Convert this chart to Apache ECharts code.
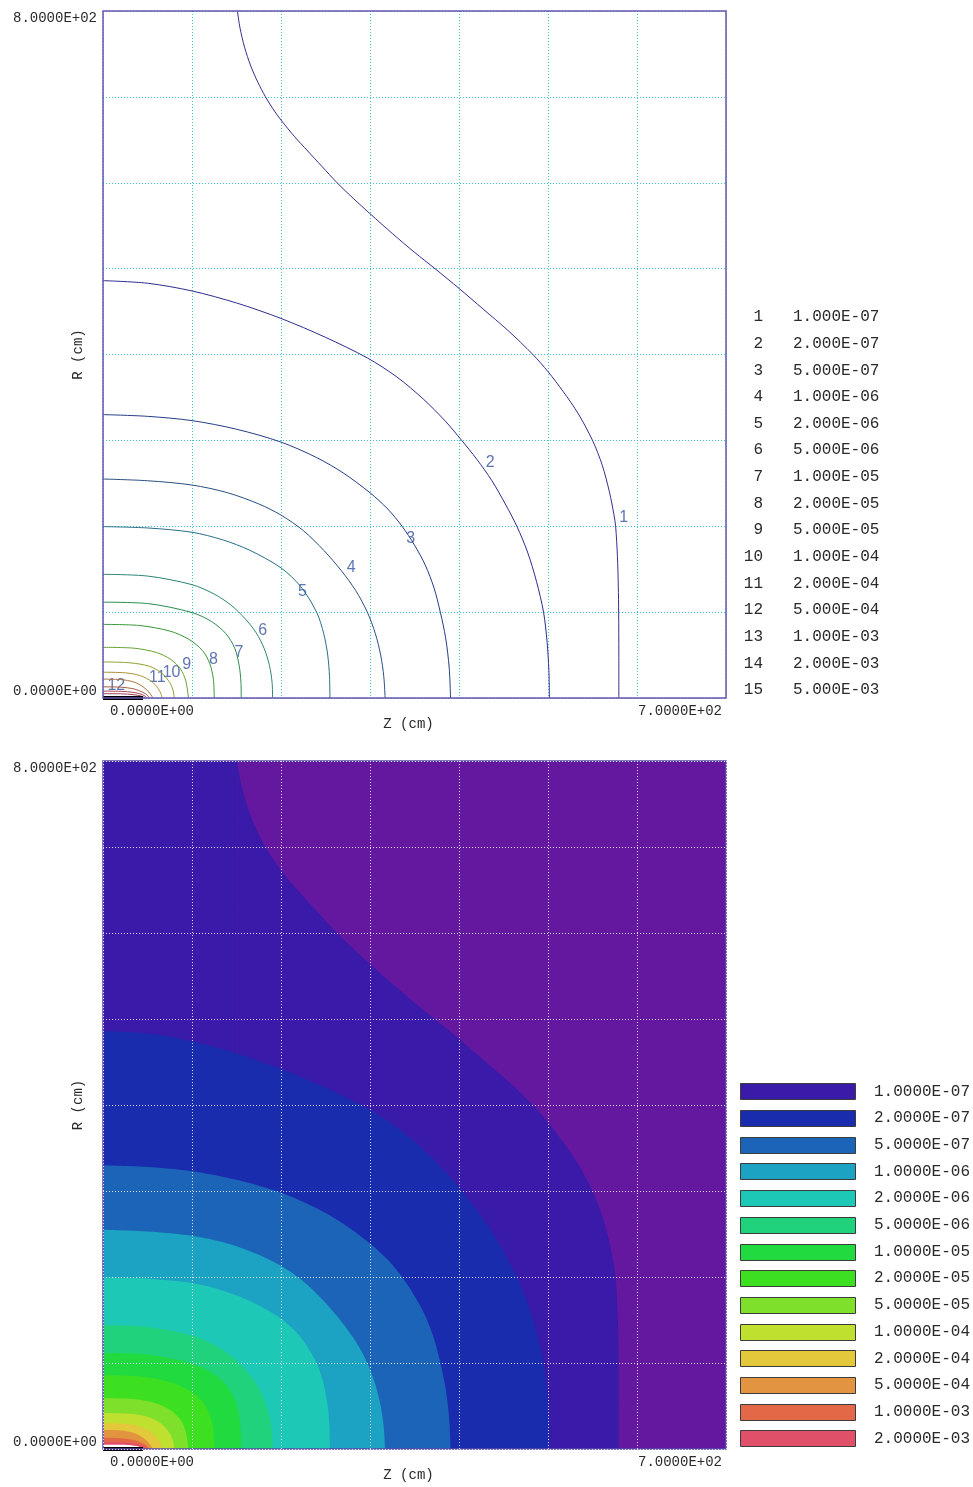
<!DOCTYPE html>
<html>
<head>
<meta charset="utf-8">
<script src="https://cdn.jsdelivr.net/npm/echarts@6/dist/echarts.min.js"></script>
<style>
  html, body { margin: 0; padding: 0; background: #ffffff; }
  #chart { width: 973px; height: 1487px; }
</style>
</head>
<body>
<div id="chart"></div>
<script>
// Contour levels of the field solution
const levels = [1e-7, 2e-7, 5e-7, 1e-6, 2e-6, 5e-6, 1e-5, 2e-5, 5e-5, 1e-4, 2e-4, 5e-4, 1e-3, 2e-3, 5e-3];
const zTickLabels = ['0.0000E+00', '7.0000E+02'];
const rTickLabels = ['0.0000E+00', '8.0000E+02'];

// Contour paths as [Z (cm), R (cm)], running from the R axis (or top edge) to the Z axis
const contour01 = [[151,800],[154,780],[159,758],[166,736],[174,717],[182.6,700],[191,686],[200,673],[215,654],
                   [230,637],[246,619],[263,600],[281,582],[300,564],[325,541],[350,519],[373,500],[400,477],
                   [427,453],[455,428],[483,400],[500,380],[517,357],[534,331],[550,300],[561,271],[569,240],
                   [574,214],[576,200],[578,165],[579,130],[579.4,100],[579.6,50],[579.6,0]];
const contour02 = [[0,486],[50,483],[100,474],[150,460],[200,442],[250,420],[297,396],[330,374],[360,348],
                   [385,322],[403,300],[420,278],[437,253],[452,226],[465,200],[477,170],[487,136],[495,100],
                   [499,65],[501,32],[501.6,0]];
const contour03 = [[0,330],[50,328],[100,323],[150,313],[200,298],[240,280],[270,262],[300,239],[320,220],
                   [336,200],[350,178],[362,155],[372,128],[379,100],[385,70],[389,35],[390.5,0]];
const contour04 = [[0,255],[50,253],[100,248],[140,239],[175,226],[200,213],[225,195],[248,172],[268,148],
                   [284,125],[297,100],[306,75],[312,50],[315.5,25],[317,0]];
const contour05 = [[0,199.6],[50,198],[100,193],[135,184],[165,172],[200,151.5],[222,130],[240,100],[248,75],
                   [252.5,50],[254.5,25],[255,0]];
const contour06 = [[0,144],[50,142],[100,132],[125,121],[144,108],[160,92],[172,76],[181,58],[187,38],[190,18],[190.5,0]];
const contour07 = [[0,111.6],[50,110],[100,99.5],[122,89],[138,75],[148,58],[153,38],[155,18],[155.3,0]];
const contour08 = [[0,85.7],[40,84.5],[75,78],[97,68],[112,55],[120,40],[124,22],[125,0]];
const contour09 = [[0,59],[35,58],[60,53],[76,45],[87,34],[93,20],[96,0]];
const contour10 = [[0,42],[30,41],[52,37],[66,29],[75,18],[79,8],[80,0]];
const contour11 = [[0,30],[25,29.3],[42,26],[55,19],[62,11],[65.5,4],[66,0]];
const contour12 = [[0,22],[20,21.5],[35,18.5],[45,13],[51.5,7],[55,2],[56,0]];
const contour13 = [[0,13],[20,12.6],[35,10.5],[45,6.5],[50,3],[52,0]];
const contour14 = [[0,8],[20,7.8],[35,6.4],[44,4],[48,1.5],[49,0]];
const contour15 = [[0,5],[20,4.9],[35,3.8],[43,2.2],[47,0]];
const contours = [contour01, contour02, contour03, contour04, contour05, contour06, contour07, contour08,
                  contour09, contour10, contour11, contour12, contour13, contour14, contour15];

// Where each contour number is printed, [Z, R]
const contourLabelPoints = [[585,210],[435,274],[345.6,186],[279,151.5],[224,124],[179.4,78],[152.8,52.7],
                            [124,45],[94,39],[77,30],[61,23.6],[15,14]];

// Source segment lying on the axis
const sourceSegment = [[0,0],[45,0]];

// Band colours: below level 1, between consecutive levels, above the last level
const belowColor = '#6418a0';
const bandColors = ['#3a1aa8','#1a2cae','#1c64b8','#1ca2c2','#1ec8b6','#20d27c','#20da40','#3ce020',
                    '#7ee02a','#c0e030','#e2c83a','#e29440','#e26848','#e05068'];
const aboveColor = '#ffffff';
const lineColors = ['#3c2a8c','#2c2c8e','#243c86','#284e80','#2a6e86','#2a8470','#2a8c50','#3a963a',
                    '#66a030','#8ea030','#a89438','#a87440','#a85a40','#a84850','#a03c58'];

const MONO = '"Liberation Mono", "DejaVu Sans Mono", monospace';
const TEXT = '#2a2a2a';

function sci(v, digits) {
  const e = Math.floor(Math.log10(v) + 1e-9);
  const m = v / Math.pow(10, e);
  return m.toFixed(digits) + 'E' + (e < 0 ? '-' : '+') + String(Math.abs(e)).padStart(2, '0');
}

function axesFor(gi, gridColor, z) {
  const x = {
    type: 'value', gridIndex: gi, min: 0, max: 700, interval: 100, z: z,
    axisLine: { show: false }, axisTick: { show: false },
    splitLine: { show: true, lineStyle: { color: gridColor, width: 1, type: [1, 2] } },
    axisLabel: {
      margin: 6, alignMinLabel: 'left', alignMaxLabel: 'right',
      formatter: v => v === 0 ? '{l|' + zTickLabels[0] + '}' : (v === 700 ? '{r|' + zTickLabels[1] + '}' : ''),
      rich: {
        l: { padding: [0, 0, 0, 7], fontFamily: MONO, fontSize: 14, color: TEXT },
        r: { padding: [0, 4, 0, 0], fontFamily: MONO, fontSize: 14, color: TEXT }
      }
    },
    name: 'Z (cm)', nameLocation: 'middle', nameGap: 19, nameMoveOverlap: false,
    nameTextStyle: { fontFamily: MONO, fontSize: 14, color: TEXT, padding: [0, 12, 0, 0] }
  };
  const y = {
    type: 'value', gridIndex: gi, min: 0, max: 800, interval: 100, z: z,
    axisLine: { show: false }, axisTick: { show: false },
    splitLine: { show: true, lineStyle: { color: gridColor, width: 1, type: [1, 2] } },
    axisLabel: {
      margin: 6, fontFamily: MONO, fontSize: 14, color: TEXT,
      verticalAlignMinLabel: 'bottom', verticalAlignMaxLabel: 'top',
      formatter: v => v === 0 ? rTickLabels[0] : (v === 800 ? rTickLabels[1] : '')
    },
    name: 'R (cm)', nameLocation: 'middle', nameGap: 18, nameMoveOverlap: false,
    nameTextStyle: { fontFamily: MONO, fontSize: 14, color: TEXT }
  };
  return { x, y };
}

const upperAxes = axesFor(0, '#38c8d0', 0);
const lowerAxes = axesFor(1, 'rgba(236,236,255,0.9)', 10);

const series = [];

// Upper panel: contour lines
contours.forEach((pts, k) => {
  series.push({
    type: 'line', xAxisIndex: 0, yAxisIndex: 0, data: pts, smooth: 0.3,
    symbol: 'none', silent: true,
    lineStyle: { color: lineColors[k], width: 1 }
  });
});
series.push({
  type: 'scatter', xAxisIndex: 0, yAxisIndex: 0, symbolSize: 1, silent: true,
  itemStyle: { color: 'rgba(0,0,0,0)' },
  data: contourLabelPoints.map((p, i) => ({ value: p, name: String(i + 1) })),
  label: { show: true, position: 'inside', formatter: '{b}', fontFamily: '"Liberation Sans", Arial, sans-serif',
           fontSize: 16, color: '#3452a0' }
});
series.push({
  type: 'line', xAxisIndex: 0, yAxisIndex: 0, data: sourceSegment, symbol: 'none', silent: true,
  lineStyle: { color: '#000000', width: 4 }
});

// Lower panel: filled bands
series.push({
  type: 'line', xAxisIndex: 1, yAxisIndex: 1, data: [[0, 800], [700, 800]], symbol: 'none', silent: true,
  lineStyle: { width: 0 }, areaStyle: { color: belowColor, opacity: 1 }
});
contours.forEach((pts, k) => {
  const color = k < bandColors.length ? bandColors[k] : aboveColor;
  if (pts[0][0] > 0) {
    // strip between the R axis and where the contour enters through the top edge
    series.push({
      type: 'line', xAxisIndex: 1, yAxisIndex: 1, data: [[0, pts[0][1]], pts[0]], symbol: 'none', silent: true,
      lineStyle: { width: 0 }, areaStyle: { color: color, opacity: 1 }
    });
  }
  series.push({
    type: 'line', xAxisIndex: 1, yAxisIndex: 1, data: pts, smooth: 0.3, symbol: 'none', silent: true,
    lineStyle: { width: 0 }, areaStyle: { color: color, opacity: 1 }
  });
});
series.push({
  type: 'line', xAxisIndex: 1, yAxisIndex: 1, data: sourceSegment, symbol: 'none', silent: true,
  lineStyle: { color: '#000000', width: 4 }
});

// Legends
const graphics = [];
levels.forEach((v, i) => {
  const cy = 317 + i * 26.64;
  graphics.push({ type: 'text', x: 763, y: cy, silent: true,
    style: { text: String(i + 1), align: 'right', verticalAlign: 'middle', font: '16px ' + MONO, fill: TEXT } });
  graphics.push({ type: 'text', x: 793, y: cy, silent: true,
    style: { text: sci(v, 3), align: 'left', verticalAlign: 'middle', font: '16px ' + MONO, fill: TEXT } });
});
bandColors.forEach((c, i) => {
  const cy = 1091.3 + i * 26.7;
  graphics.push({ type: 'rect', silent: true, shape: { x: 740.5, y: Math.round(cy - 8) + 0.5, width: 115, height: 16 },
    style: { fill: c, stroke: '#3c3c3c', lineWidth: 1 } });
  graphics.push({ type: 'text', x: 874, y: cy, silent: true,
    style: { text: sci(levels[i], 4), align: 'left', verticalAlign: 'middle', font: '16px ' + MONO, fill: TEXT } });
});

const chart = echarts.init(document.getElementById('chart'), null, { renderer: 'canvas' });
chart.setOption({
  animation: false,
  backgroundColor: '#ffffff',
  grid: [
    { left: 103, top: 11, width: 623, height: 687, show: true, backgroundColor: 'transparent',
      borderColor: '#6656b0', borderWidth: 1.5, z: 10, containLabel: false, outerBoundsMode: 'none' },
    { left: 103, top: 761, width: 623, height: 688, show: true, backgroundColor: 'transparent',
      borderColor: '#5a4aa8', borderWidth: 1.5, z: 10, containLabel: false, outerBoundsMode: 'none' }
  ],
  xAxis: [upperAxes.x, lowerAxes.x],
  yAxis: [upperAxes.y, lowerAxes.y],
  series: series,
  graphic: graphics
});
</script>
</body>
</html>
